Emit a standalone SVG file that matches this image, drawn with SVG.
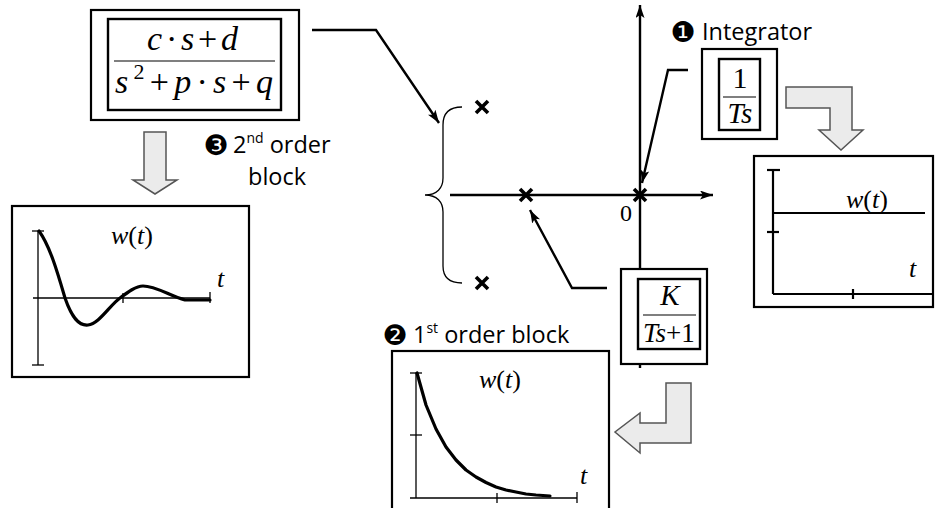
<svg xmlns="http://www.w3.org/2000/svg" width="936" height="508" viewBox="0 0 936 508">
<style>
.box{fill:#fff;stroke:#000;stroke-width:2.2}
.inbox{fill:#fff;stroke:#000;stroke-width:2.4}
.frac{stroke:#000;stroke-width:1.2}
.math{font-family:"Liberation Serif",serif;font-style:italic;fill:#000}
.up{font-style:normal}
.lbl{font-family:"Open Sans","Liberation Sans",sans-serif;font-size:23.5px;fill:#000}
.num{font-family:"DejaVu Sans",sans-serif;font-size:28px;fill:#000;text-anchor:middle}
.conn{fill:none;stroke:#000;stroke-width:2.4}
.axis{fill:none;stroke:#000;stroke-width:2.4}
.thin{fill:none;stroke:#000;stroke-width:1.3}
.thick{fill:none;stroke:#000;stroke-width:2.2}
.curve{fill:none;stroke:#000;stroke-width:3.2;stroke-linejoin:round;stroke-linecap:round}
.garrow{fill:#ebebeb;stroke:#555;stroke-width:1.5;stroke-linejoin:miter}
.pole{stroke:#000;stroke-width:3.6;stroke-linecap:butt}
.plot{fill:#fff;stroke:#000;stroke-width:2.2}
</style>
<defs>
<marker id="ah" viewBox="0 0 13 9" refX="13" refY="4.5" markerWidth="13" markerHeight="9" markerUnits="userSpaceOnUse" orient="auto">
<path d="M0,0 L13,4.5 L0,9 L3,4.5 Z" fill="#000"/>
</marker>
</defs>

<g id="s-plane">
<line class="axis" x1="450" y1="195" x2="713" y2="195" marker-end="url(#ah)"/>
<line class="axis" x1="640" y1="368" x2="640" y2="5" marker-end="url(#ah)"/>
<text class="math up" x="620" y="221" font-size="24">0</text>
<path class="thin" d="M462,107 C449,107 443,113 443,125 L443,178 C443,188 437,195 425,195 C437,195 443,202 443,212 L443,266 C443,277 449,283 462,283"/>
<g id="poles">
<path class="pole" d="M476,101 L488,113 M488,101 L476,113"/>
<path class="pole" d="M476,277 L488,289 M488,277 L476,289"/>
<path class="pole" d="M520,189 L532,201 M532,189 L520,201"/>
<path class="pole" d="M634,189 L646,201 M646,189 L634,201"/>
</g>
</g>

<g id="connectors">
<polyline class="conn" points="312,30 376,30 439,123" marker-end="url(#ah)"/>
<polyline class="conn" points="688,70 668,70 642,183" marker-end="url(#ah)"/>
<polyline class="conn" points="607,288 572,288 530,210" marker-end="url(#ah)"/>
<path class="garrow" d="M144,132 L166,132 L166,180 L177,180 L155,194 L133,180 L144,180 Z"/>
<path class="garrow" d="M786,87 L852,87 L852,130 L863,130 L841,150 L819,130 L830,130 L830,108 L786,108 Z"/>
<path class="garrow" d="M666,383 L691,383 L691,443 L640,443 L640,453 L615,432 L640,413 L640,423 L666,423 Z"/>
</g>

<g id="block-2nd">
<rect class="box" x="91" y="10" width="208" height="110"/>
<rect class="inbox" x="108" y="19" width="173" height="91"/>
<line class="frac" x1="114" y1="61" x2="275" y2="61"/>
<text class="math" x="147" y="50" font-size="34" textLength="91" lengthAdjust="spacing">c<tspan class="up">·</tspan>s<tspan class="up">+</tspan>d</text>
<text class="math" x="115" y="93" font-size="34" textLength="158" lengthAdjust="spacing">s<tspan class="up" font-size="22" dy="-14">2</tspan><tspan class="up" dy="14">+</tspan>p<tspan class="up">·</tspan>s<tspan class="up">+</tspan>q</text>
</g>

<g id="label-2nd">
<text class="num" x="216" y="155">❸</text>
<text class="lbl" x="233" y="153">2<tspan font-size="14" dy="-10">nd</tspan><tspan dy="10"> order</tspan></text>
<text class="lbl" x="248" y="185">block</text>
</g>

<g id="plot-2nd">
<rect class="plot" x="12" y="206" width="237" height="171"/>
<line class="thin" x1="38" y1="231" x2="38" y2="365"/>
<line class="thin" x1="32" y1="231" x2="44" y2="231"/>
<line class="thin" x1="32" y1="365" x2="44" y2="365"/>
<line class="thin" x1="33" y1="298" x2="210" y2="298"/>
<line class="thin" x1="123" y1="293" x2="123" y2="303"/>
<line class="thin" x1="210" y1="292" x2="210" y2="303"/>
<path class="curve" d="M39,231 C50,246 58,274 65,298 C72,318 79,326 88,325 C99,324 110,305 120,298 C128,292 136,286 143,286 C156,286 170,296 185,300 L210,300"/>
<text class="math" x="111" y="244" font-size="26">w<tspan class="up">(</tspan>t<tspan class="up">)</tspan></text>
<text class="math" x="217" y="287" font-size="26">t</text>
</g>

<g id="block-integrator">
<text class="num" x="683" y="42">❶</text>
<text class="lbl" x="702" y="40">Integrator</text>
<rect class="box" x="702" y="49" width="75" height="90"/>
<rect class="inbox" x="719" y="59" width="41" height="71"/>
<line class="frac" x1="723" y1="97" x2="756" y2="97"/>
<text class="math up" x="740" y="88" font-size="30" text-anchor="middle">1</text>
<text class="math" x="740" y="123" font-size="29" text-anchor="middle">Ts</text>
</g>

<g id="plot-integrator">
<rect class="plot" x="754" y="156" width="179" height="151"/>
<line class="thick" x1="773" y1="170" x2="773" y2="294"/>
<line class="thick" x1="767" y1="170" x2="780" y2="170"/>
<line class="thick" x1="767" y1="232" x2="779" y2="232"/>
<line class="thick" x1="773" y1="294" x2="933" y2="294"/>
<line class="thick" x1="853" y1="289" x2="853" y2="299"/>
<line class="thick" x1="773" y1="213" x2="925" y2="213"/>
<text class="math" x="846" y="208" font-size="26">w<tspan class="up">(</tspan>t<tspan class="up">)</tspan></text>
<text class="math" x="909" y="277" font-size="26">t</text>
</g>

<g id="block-1st">
<rect class="box" x="621" y="269" width="86" height="95"/>
<rect class="inbox" x="638" y="279" width="62" height="70"/>
<line class="frac" x1="643" y1="315" x2="696" y2="315"/>
<text class="math" x="670" y="305" font-size="29" text-anchor="middle">K</text>
<text class="math" x="643" y="342" font-size="27">Ts<tspan class="up">+1</tspan></text>
</g>

<g id="label-1st">
<text class="num" x="395" y="345">❷</text>
<text class="lbl" x="413" y="343">1<tspan font-size="14" dy="-10">st</tspan><tspan dy="10"> order block</tspan></text>
</g>

<g id="plot-1st">
<rect class="plot" x="392" y="351" width="217" height="160"/>
<line class="thin" x1="416" y1="373" x2="416" y2="498"/>
<line class="thin" x1="410" y1="373" x2="422" y2="373"/>
<line class="thin" x1="410" y1="435" x2="422" y2="435"/>
<line class="thin" x1="410" y1="498" x2="577" y2="498"/>
<line class="thin" x1="497" y1="493" x2="497" y2="503"/>
<line class="thin" x1="577" y1="492" x2="577" y2="503"/>
<path class="curve" d="M417,373 L426,405 L436,429 L446,447 L456,460 L466,470 L476,477 L486,482.5 L496,487 L506,490 L516,492 L526,494 L536,495 L550,496"/>
<text class="math" x="479" y="388" font-size="26">w<tspan class="up">(</tspan>t<tspan class="up">)</tspan></text>
<text class="math" x="580" y="484" font-size="26">t</text>
</g>
</svg>
